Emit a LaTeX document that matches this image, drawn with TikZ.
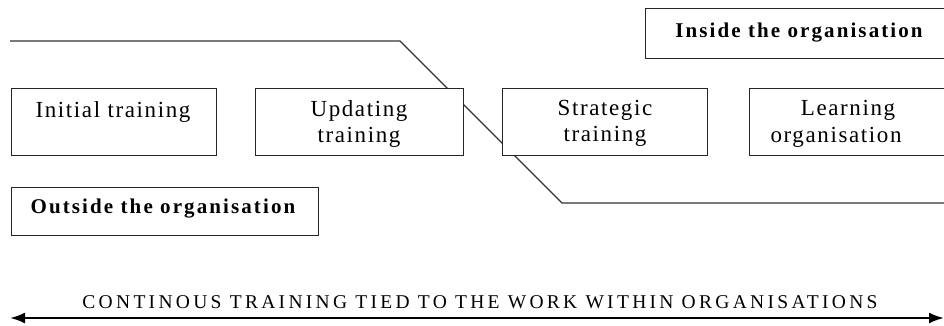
\documentclass[tikz,border=0pt]{standalone}
\usepackage{fontspec}
\setmainfont{Liberation Serif}
\newfontfamily\boxfont[LetterSpace=7]{Liberation Serif}
\newfontfamily\headfont[LetterSpace=10]{Liberation Serif}
\newfontfamily\axisfont[LetterSpace=17]{Liberation Serif}
\usetikzlibrary{arrows.meta}
\begin{document}
\begin{tikzpicture}[x=1pt,y=-1pt,
  box/.style={draw=black!85, line width=1.2pt, fill=white, inner sep=0pt, anchor=north west},
  lbl/.style={anchor=base, inner sep=0pt, font=\fontsize{23}{27}\selectfont\boxfont},
  blbl/.style={anchor=base, inner sep=0pt, font=\fontsize{21}{24}\selectfont\headfont\bfseries},
  track/.style={draw=black!80, line width=1.1pt},
  axis/.style={line width=2.2pt, >={Latex[length=15pt,width=11pt]}, <->}]
\useasboundingbox (0,0) rectangle (944,325);
\clip (0,0) rectangle (944,325);
\fill[white] (0,0) rectangle (944,325);

% boundary between outside and inside the organisation
\coordinate (t0) at (10,41);
\coordinate (t1) at (400,41);
\coordinate (t2) at (562,203);
\coordinate (t3) at (950,203);
\draw[track] (t0) -- (t1) -- (t2) -- (t3);

% training boxes
\node[box, minimum width=205, minimum height=67] (init) at (11,88) {};
\node[lbl] (initT) at (113,117) {Initial training};
\node[box, minimum width=208, minimum height=67] (upd) at (255,88) {};
\node[lbl] (updT1) at (359,116) {Updating};
\node[lbl] (updT2) at (359,142) {training};
\node[box, minimum width=205, minimum height=67] (strat) at (502,88) {};
\node[lbl] (stratT1) at (605,115) {Strategic};
\node[lbl] (stratT2) at (605,141) {training};
\node[box, minimum width=215, minimum height=67] (learn) at (749,88) {};
\node[lbl] (learnT1) at (848,115) {Learning};
\node[lbl] (learnT2) at (836,142) {organisation};

% inside / outside labels
\node[box, minimum width=310, minimum height=50] (inside) at (645,8) {};
\node[blbl] (insideT) at (799,37) {Inside the organisation};
\node[box, minimum width=307, minimum height=48] (outside) at (11,187) {};
\node[blbl] (outsideT) at (163,213) {Outside the organisation};

% continuous training axis
\coordinate (a0) at (10,318);
\coordinate (a1) at (944,318);
\draw[axis] (a0) -- (a1);
\node[anchor=base, inner sep=0pt, font=\fontsize{19.5}{22}\selectfont\axisfont] (axisT) at (480,308)
  {CONTINOUS TRAINING TIED TO THE WORK WITHIN ORGANISATIONS};
\end{tikzpicture}
\end{document}
